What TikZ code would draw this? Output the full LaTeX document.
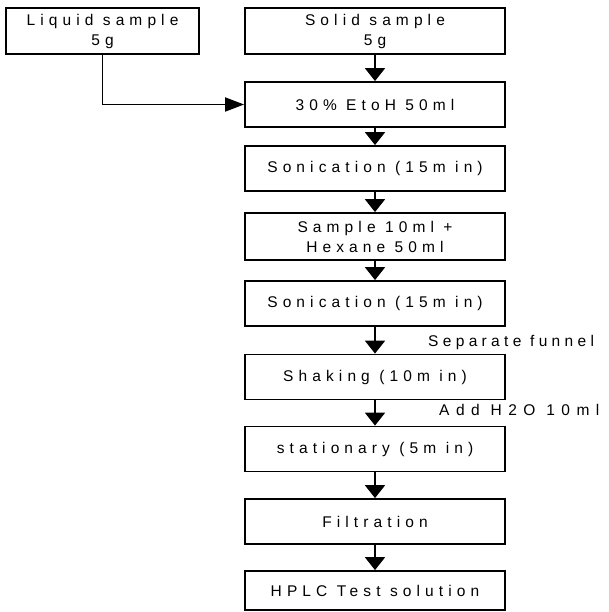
\documentclass[tikz,border=0pt]{standalone}
\usepackage{fontspec}
\setmainfont{Liberation Sans}[LetterSpace=33]
\usetikzlibrary{arrows.meta}
\tikzset{
  box/.style={draw, line width=1.8pt, rectangle, minimum width=260pt, minimum height=45pt, inner sep=0pt, align=center, font=\fontsize{15.5pt}{20pt}\selectfont},
  flow/.style={line width=2pt, -{Triangle[length=13pt,width=20pt]}},
  side/.style={line width=1.8pt, -{Triangle[length=19pt,width=14pt]}},
  lbl/.style={anchor=west, inner sep=0pt, font=\fontsize{15.5pt}{18pt}\selectfont}
}
\begin{document}
\begin{tikzpicture}[x=1pt,y=-1pt]
\useasboundingbox (0,0) rectangle (609,612);
\node[box, minimum width=193pt, minimum height=46pt] (liq) at (102.5,31) {Liquid sample\\5g};
\node[box, minimum height=46pt] (sol) at (375,31) {Solid sample\\5g};
\node[box] (eth) at (375,104.5) {30\% EtoH 50ml};
\node[box] (son1) at (375,168.5) {Sonication (15m in)};
\node[box, minimum height=47pt] (samp) at (375,236.5) {Sample 10ml +\\Hexane 50ml};
\node[box] (son2) at (375,303.5) {Sonication (15m in)};
\node[box] (shak) at (375,377) {Shaking (10m in)};
\node[box] (stat) at (375,449) {stationary (5m in)};
\node[box] (filt) at (375,521.5) {Filtration};
\node[box, minimum height=39pt] (hplc) at (375,590.5) {HPLC Test solution};
\node[lbl] (sep) at (428,342) {\addfontfeature{LetterSpace=28}Separate funnel};
\node[lbl] (add) at (439,410) {\addfontfeature{LetterSpace=42}Add H2O 10ml};
\draw[side] (liq.south) |- (eth.west);
\draw[flow] (sol) -- (eth);
\draw[flow] (eth) -- (son1);
\draw[flow] (son1) -- (samp);
\draw[flow] (samp) -- (son2);
\draw[flow] (son2) -- (shak);
\draw[flow] (shak) -- (stat);
\draw[flow] (stat) -- (filt);
\draw[flow] (filt) -- (hplc);
\end{tikzpicture}
\end{document}
